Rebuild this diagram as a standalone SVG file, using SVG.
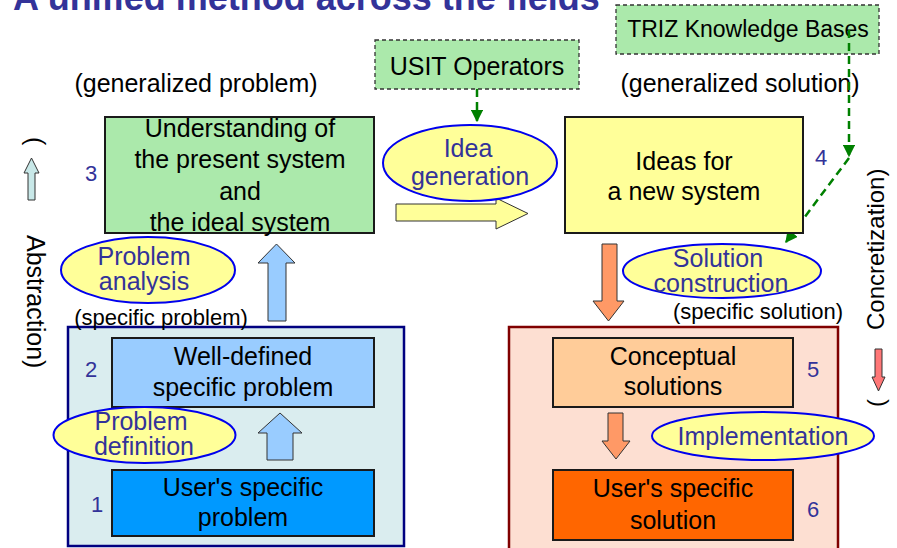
<svg xmlns="http://www.w3.org/2000/svg" width="897" height="548" viewBox="0 0 897 548">
<defs>
<style>
text{font-family:"Liberation Sans",Arial,sans-serif;}
.t{font-size:25px;fill:#000;text-anchor:middle;}
.e{font-size:25px;fill:#333399;text-anchor:middle;}
.n{font-size:22px;fill:#333399;}
.s{font-size:22px;fill:#000;}
.box{stroke:#1a1a1a;stroke-width:2;}
.ell{fill:#ffff99;stroke:#0000ee;stroke-width:2;}
.dash{fill:none;stroke:#008000;stroke-width:2.5;stroke-dasharray:8,5;}
.arr{stroke:#333;stroke-width:1;}
</style>
<marker id="gh" viewBox="0 0 10 10" refX="9" refY="5" markerWidth="5" markerHeight="5" orient="auto" markerUnits="strokeWidth">
<path d="M0,0 L10,5 L0,10 z" fill="#008000"/>
</marker>
</defs>
<rect width="897" height="548" fill="#fff"/>
<text x="13" y="10" style="font-size:36px;font-weight:bold;fill:#333399">A unified method across the fields</text>

<g id="containers">
<rect x="68" y="327" width="336" height="219" fill="#daedef" stroke="#000080" stroke-width="2.5"/>
<rect x="509" y="327" width="329" height="223" fill="#fddfd2" stroke="#800000" stroke-width="2.5"/>
</g>

<g id="usit">
<rect x="375" y="40" width="204" height="49" fill="#abe9ab" stroke="#333" stroke-width="1.3" stroke-dasharray="4,3"/>
<text x="477" y="75" class="t">USIT Operators</text>
</g>
<g id="triz">
<rect x="616" y="5" width="263" height="49" fill="#abe9ab" stroke="#333" stroke-width="1.3" stroke-dasharray="4,3"/>
<text x="748" y="37" class="t" style="font-size:23px">TRIZ Knowledge Bases</text>
</g>

<text x="196" y="92" class="t">(generalized problem)</text>
<text x="740" y="92" class="t">(generalized solution)</text>
<text x="161" y="325" class="s" style="text-anchor:middle">(specific problem)</text>
<text x="758" y="319" class="s" style="text-anchor:middle">(specific solution)</text>

<g id="connectors">
<path class="arr" d="M396,204 H496 V198 L528,213.5 L496,229 V221 H396 Z" fill="#ffff99"/>
<path class="arr" d="M268,321 V263 H258 L276.5,244 L295,263 H286 V321 Z" fill="#99ccff"/>
<path class="arr" d="M267,460 V433 H258 L280,413 L302,433 H293 V460 Z" fill="#99ccff"/>
<path class="arr" d="M602,244 V301 H593 L608.5,321 L624,301 H617 V244 Z" fill="#ff9966"/>
<path class="arr" d="M608,413 V441 H602 L616,459 L630,441 H623 V413 Z" fill="#ff9966"/>
<path class="arr" d="M28,200 V173 H24 L31.5,158 L39,173 H35 V200 Z" fill="#c8e8e8"/>
<path class="arr" d="M875,349 V377 H872 L878.5,391 L885,377 H882 V349 Z" fill="#ff7777"/>
<path class="dash" d="M477,89 V121" marker-end="url(#gh)"/>
<path class="dash" d="M849,30 V156" marker-end="url(#gh)"/>
<path class="dash" d="M849,158 L786,242" marker-end="url(#gh)"/>
</g>

<g id="n3">
<rect class="box" x="105" y="117" width="269" height="116" fill="#abe9ab"/>
<text class="t" x="240" y="137">Understanding of</text>
<text class="t" x="240" y="168">the present system</text>
<text class="t" x="240" y="200">and</text>
<text class="t" x="240" y="231">the ideal system</text>
<text class="n" x="85" y="181">3</text>
</g>
<g id="n4">
<rect class="box" x="565" y="117" width="238" height="116" fill="#ffff99"/>
<text class="t" x="684" y="170">Ideas for</text>
<text class="t" x="684" y="200">a new system</text>
<text class="n" x="815" y="165">4</text>
</g>
<g id="n2">
<rect class="box" x="112" y="338" width="262" height="69" fill="#99ccff"/>
<text class="t" x="243" y="365">Well-defined</text>
<text class="t" x="243" y="396">specific problem</text>
<text class="n" x="85" y="377">2</text>
</g>
<g id="n1">
<rect class="box" x="112" y="470" width="262" height="66" fill="#0099ff"/>
<text class="t" x="243" y="496">User's specific</text>
<text class="t" x="243" y="526">problem</text>
<text class="n" x="91" y="512">1</text>
</g>
<g id="n5">
<rect class="box" x="553" y="338" width="240" height="69" fill="#ffcc99"/>
<text class="t" x="673" y="365">Conceptual</text>
<text class="t" x="673" y="395">solutions</text>
<text class="n" x="807" y="377">5</text>
</g>
<g id="n6">
<rect class="box" x="553" y="470" width="240" height="70" fill="#ff6600"/>
<text class="t" x="673" y="497">User's specific</text>
<text class="t" x="673" y="529">solution</text>
<text class="n" x="807" y="517">6</text>
</g>

<g id="idea">
<ellipse class="ell" cx="470" cy="163" rx="87" ry="38"/>
<text class="e" x="468" y="157">Idea</text>
<text class="e" x="470" y="185">generation</text>
</g>
<g id="analysis">
<ellipse class="ell" cx="148" cy="270" rx="87" ry="33"/>
<text class="e" x="144" y="265">Problem</text>
<text class="e" x="144" y="290">analysis</text>
</g>
<g id="definition">
<ellipse class="ell" cx="144.5" cy="435" rx="91" ry="28"/>
<text class="e" x="141" y="430">Problem</text>
<text class="e" x="144" y="455">definition</text>
</g>
<g id="construction">
<ellipse class="ell" cx="722" cy="271" rx="99" ry="27"/>
<text class="e" x="718" y="267">Solution</text>
<text class="e" x="721" y="292">construction</text>
</g>
<g id="implementation">
<ellipse class="ell" cx="763" cy="436" rx="111" ry="24"/>
<text class="e" x="763" y="445">Implementation</text>
</g>

<g id="axes">
<text transform="translate(27,137) rotate(90)" style="font-size:25px">(</text>
<text transform="translate(27,235) rotate(90)" style="font-size:25px">Abstraction)</text>
<text transform="translate(884,330) rotate(-90)" style="font-size:24px">Concretization)</text>
<text transform="translate(884,407) rotate(-90)" style="font-size:24px">(</text>
</g>
</svg>
